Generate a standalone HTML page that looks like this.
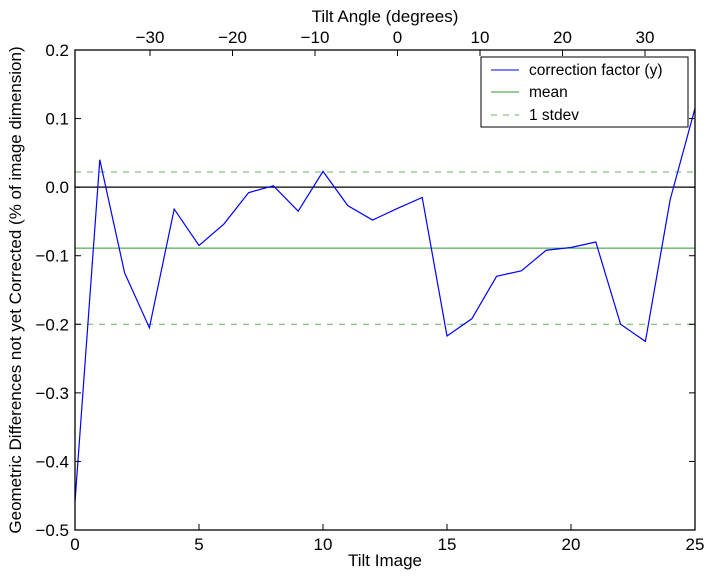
<!DOCTYPE html>
<html><head><meta charset="utf-8"><style>
body{margin:0;background:#fff;}
svg{font-family:"Liberation Sans",sans-serif;}
</style></head><body>
<svg id="c" width="714" height="579"></svg>
<script>
const tiltImages=[0,1,2,3,4,5,6,7,8,9,10,11,12,13,14,15,16,17,18,19,20,21,22,23,24,25];
const correction=[-0.459,0.040,-0.125,-0.205,-0.032,-0.085,-0.054,-0.008,0.002,-0.035,0.023,-0.027,-0.048,-0.031,-0.015,-0.217,-0.192,-0.130,-0.122,-0.092,-0.088,-0.080,-0.200,-0.225,-0.018,0.115];
const meanVal=[-0.089];
const stdevVals=[0.022,-0.200];
const xTicks=[0,5,10,15,20,25];
const yTicks=[0.2,0.1,0.0,-0.1,-0.2,-0.3,-0.4,-0.5];
const topTicks=[-30,-20,-10,0,10,20,30];
const L=75,R=695,T=50,B=530;
const xs=v=>L+(v-0)/(25-0)*(R-L);
const ys=v=>T+(0.2-v)/(0.7)*(B-T);
const xa=a=>397.5+a*8.25;
const svg=document.getElementById('c');
const NS='http://www.w3.org/2000/svg';
function mk(t,a,p){const e=document.createElementNS(NS,t);for(const k in a)e.setAttribute(k,a[k]);(p||svg).appendChild(e);return e;}
function txt(x,y,s,anchor,size){const e=mk('text',{x:x,y:y,'text-anchor':anchor||'middle','font-size':size||17,fill:'#000'});e.textContent=s;return e;}
let e=mk('line',{x1:L,x2:R,y1:ys(0),y2:ys(0),stroke:'#000','stroke-width':1.3});


e=mk('line',{x1:L,x2:R,y1:ys(meanVal[0]),y2:ys(meanVal[0]),stroke:'#2e962e','stroke-width':1});


stdevVals.forEach(v=>{
 const l=mk('line',{x1:L,x2:R,y1:ys(v),y2:ys(v),stroke:'#5cb85c','stroke-width':1,'stroke-dasharray':'6,6'});
 
 
});
const pts=tiltImages.map((x,i)=>xs(x)+','+ys(correction[i])).join(' ');
e=mk('polyline',{points:pts,fill:'none',stroke:'#0000ff','stroke-width':1.2});


e=mk('rect',{x:L,y:T,width:R-L,height:B-T,fill:'none',stroke:'#000','stroke-width':1.3});


xTicks.forEach(v=>{
 mk('line',{x1:xs(v),x2:xs(v),y1:B,y2:B-6,stroke:'#000'});
 const t=txt(xs(v),B+20,String(v));
 
 
});
yTicks.forEach(v=>{
 mk('line',{x1:L,x2:L+6,y1:ys(v),y2:ys(v),stroke:'#000'});
 mk('line',{x1:R,x2:R-6,y1:ys(v),y2:ys(v),stroke:'#000'});
 const t=txt(L-6,ys(v)+6,(v<0?'\u2212':'')+Math.abs(v).toFixed(1),'end');
 
 
});
topTicks.forEach(v=>{
 mk('line',{x1:xa(v),x2:xa(v),y1:T,y2:T+6,stroke:'#000'});
 const t=txt(xa(v),T-7,(v<0?'\u2212':'')+Math.abs(v));
 
 
});
e=txt(385,566,'Tilt Image');


e=txt(385,22,'Tilt Angle (degrees)');


e=txt(0,0,'Geometric Differences not yet Corrected (% of image dimension)');
e.setAttribute('transform','translate(21,290) rotate(-90)');


const g=mk('g',{});


mk('rect',{x:481,y:57,width:207,height:70,fill:'#fff',stroke:'#000','stroke-width':1},g);
mk('line',{x1:491,x2:519,y1:70,y2:70,stroke:'#0000ff'},g);
mk('line',{x1:491,x2:519,y1:92,y2:92,stroke:'#2e962e'},g);
mk('line',{x1:491,x2:519,y1:115,y2:115,stroke:'#5cb85c','stroke-dasharray':'6,6'},g);
[['correction factor (y)',75],['mean',97],['1 stdev',120]].forEach(([s,y])=>{
 const t=mk('text',{x:529,y:y,'font-size':15.5,fill:'#000'},g);t.textContent=s;
 
 
});
</script>
</body></html>
